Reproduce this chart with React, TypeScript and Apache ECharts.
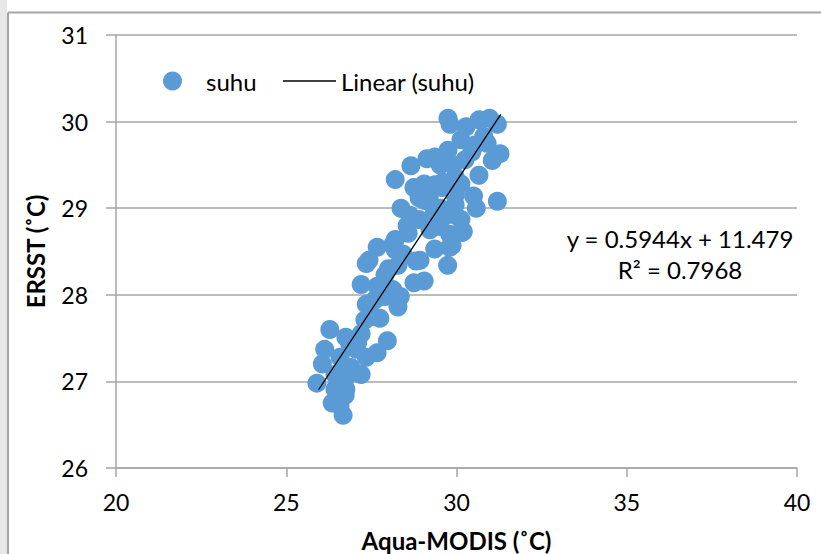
import React, { useEffect, useRef } from "react";
import * as echarts from "echarts";

const xTicks = [20, 25, 30, 35, 40];
const yTicks = [26, 27, 28, 29, 30, 31];

const modis = [
  29.75, 29.81, 30.66, 30.97, 31.2, 30.8, 30.28, 30.13, 31.28, 31.05,
  30.66, 31.2, 30.58, 30.5, 30.2, 29.8, 29.74, 29.36, 29.05, 28.75,
  29.75, 29.36, 29.13, 28.66, 28.2, 28.75, 28.37, 29.2, 29.58, 29.96,
  30.13, 29.96, 29.66, 30.13, 28.9, 28.58, 28.2, 28.13, 27.67, 27.43,
  27.35, 28.43, 28.81, 28.28, 27.2, 27.67, 27.35, 27.52, 27.75, 28.28,
  28.35, 27.9, 28.13, 26.28, 27.97, 27.2, 26.75, 26.13, 26.06, 26.58,
  27.05, 27.67, 27.35, 27.2, 26.9, 25.9, 26.43, 26.75, 26.35, 26.58,
  26.67, 26.75, 26.43, 29.5, 29.8, 29.35, 29.05, 28.9, 29.87, 30.16,
  30.45, 29.9, 28.55, 28.0, 27.1, 26.6, 30.9, 29.6,
  29.52, 29.07, 29.37, 28.63, 29.22, 29.52, 28.2, 27.9, 27.6, 27.31,
  26.87, 26.58, 26.73, 29.96, 30.25, 30.54, 29.96, 28.93
];
const ersst = [
  30.04, 29.97, 30.02, 30.04, 29.97, 29.83, 29.94, 29.79, 29.63, 29.55,
  29.38, 29.08, 29.0, 29.14, 28.73, 28.55, 28.34, 28.53, 28.16, 28.14,
  29.67, 29.59, 29.57, 29.49, 29.33, 29.24, 29.0, 29.12, 29.24, 29.36,
  29.28, 29.04, 28.91, 28.87, 28.87, 28.71, 28.64, 28.58, 28.55, 28.4,
  28.36, 28.47, 28.39, 28.34, 28.12, 28.1, 27.89, 27.75, 27.73, 27.86,
  27.98, 27.98, 28.06, 27.6, 27.47, 27.55, 27.51, 27.37, 27.2, 27.28,
  27.37, 27.33, 27.28, 27.08, 27.16, 26.98, 26.91, 26.91, 26.75, 26.72,
  26.61, 27.04, 27.08, 28.79, 28.7, 28.95, 29.28, 29.12, 28.57, 28.72,
  29.65, 29.5, 28.8, 28.3, 27.45, 27.0, 29.75, 29.3,
  29.5, 29.09, 29.27, 28.92, 28.75, 29.0, 28.52, 28.23, 27.94, 27.71,
  27.42, 27.07, 26.84, 29.15, 29.56, 29.73, 28.92, 28.4
];

const slope = 0.5944;
const intercept = 11.479;
const rSquared = 0.7968;
const trendX = [25.95, 31.3];

const seriesName = "suhu";
const trendName = "Linear (suhu)";
const xName = "Aqua-MODIS (˚C)";
const yName = "ERSST (˚C)";

const FONT = "Lato, 'Open Sans', sans-serif";

export default function App() {
  const ref = useRef<HTMLDivElement>(null);

  useEffect(() => {
    if (!ref.current) return;
    const chart = echarts.init(ref.current, null, { renderer: "svg" });
    const points = modis.map((x, i) => [x, ersst[i]]);
    const trend = trendX.map((x) => [x, slope * x + intercept]);
    const gridColor = "#a6a6a6";

    chart.setOption({
      animation: false,
      backgroundColor: "#ffffff",
      textStyle: { fontFamily: FONT },
      grid: {
        left: 116,
        top: 35,
        right: 24,
        bottom: 86,
        containLabel: false,
        outerBoundsMode: "none",
      },
      legend: [
        {
          data: [seriesName],
          left: 158,
          top: 64,
          icon: "circle",
          itemWidth: 19,
          itemHeight: 19,
          textStyle: { fontSize: 24, color: "#000", fontFamily: FONT, padding: [0, 0, 0, 19] },
        },
        {
          data: [trendName],
          left: 278,
          top: 64,
          icon: "rect",
          itemWidth: 53,
          itemHeight: 1.5,
          textStyle: { fontSize: 24, color: "#000", fontFamily: FONT },
        },
      ],
      xAxis: {
        type: "value",
        min: xTicks[0],
        max: xTicks[xTicks.length - 1],
        interval: 5,
        name: xName,
        nameLocation: "middle",
        nameGap: 60,
        nameTextStyle: { fontSize: 24, fontWeight: "bold", color: "#000", fontFamily: FONT },
        axisLine: { show: true, lineStyle: { color: gridColor, width: 1.5 } },
        axisTick: { show: true, length: 9, lineStyle: { color: gridColor, width: 1.5 } },
        axisLabel: { fontSize: 23, color: "#000", margin: 22, fontFamily: FONT },
        splitLine: { show: false },
      },
      yAxis: {
        type: "value",
        min: yTicks[0],
        max: yTicks[yTicks.length - 1],
        interval: 1,
        name: yName,
        nameLocation: "middle",
        nameGap: 69,
        nameRotate: 90,
        nameTextStyle: { fontSize: 24, fontWeight: "bold", color: "#000", fontFamily: FONT },
        axisLine: { show: true, lineStyle: { color: gridColor, width: 1.5 } },
        axisTick: { show: true, length: 10, lineStyle: { color: gridColor, width: 1.5 } },
        axisLabel: { fontSize: 23, color: "#000", margin: 28, fontFamily: FONT },
        splitLine: { show: true, lineStyle: { color: gridColor, width: 1.5 } },
      },
      series: [
        {
          name: seriesName,
          type: "scatter",
          data: points,
          symbol: "circle",
          symbolSize: 19,
          itemStyle: { color: "#5b9bd5", opacity: 1 },
          z: 2,
        },
        {
          name: trendName,
          type: "line",
          data: trend,
          showSymbol: false,
          symbol: "none",
          lineStyle: { color: "#000", width: 1.3 },
          itemStyle: { color: "#000" },
          z: 3,
        },
      ],
      graphic: [
        {
          type: "rect",
          shape: { x: 0, y: 0, width: 7, height: 554 },
          style: { fill: "#e8e8e8" },
          silent: true,
        },
        {
          type: "line",
          shape: { x1: 8, y1: 554, x2: 8, y2: 12.5 },
          style: { stroke: "#a6a6a6", lineWidth: 2 },
          silent: true,
        },
        {
          type: "line",
          shape: { x1: 8, y1: 12.5, x2: 821, y2: 12.5 },
          style: { stroke: "#a6a6a6", lineWidth: 2 },
          silent: true,
        },
        {
          type: "text",
          x: 680,
          y: 238,
          style: {
            text: `y = ${slope}x + ${intercept}`,
            fontSize: 24,
            fill: "#000",
            fontFamily: FONT,
            align: "center",
            verticalAlign: "middle",
          },
        },
        {
          type: "text",
          x: 680,
          y: 269,
          style: {
            text: `R² = ${rSquared}`,
            fontSize: 24,
            fill: "#000",
            fontFamily: FONT,
            align: "center",
            verticalAlign: "middle",
          },
        },
      ],
    });
    return () => chart.dispose();
  }, []);

  return (
    <div
      ref={ref}
      style={{ position: "fixed", left: 0, top: 0, width: 821, height: 554 }}
    />
  );
}
